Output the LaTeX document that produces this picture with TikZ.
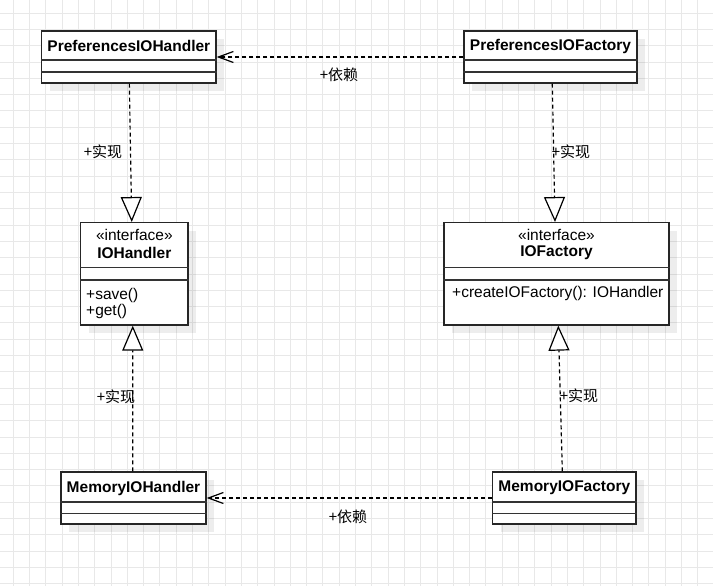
\documentclass[tikz,border=0pt]{standalone}
\usepackage{fontspec}
\setmainfont{Liberation Sans}
\newfontfamily\cjk{Noto Sans CJK SC}
\usetikzlibrary{arrows.meta,calc,shadows}
\def\umlrules(#1)(#2:#3){\draw[boxline] ($(#1.north west)+(0,#2)$) -- ($(#1.north east)+(0,#2)$); \draw[boxline] ($(#1.north west)+(0,#3)$) -- ($(#1.north east)+(0,#3)$);}

\tikzset{
	gridline/.style={line width=0.6pt, color=black!9},
	boxline/.style={line width=1.3pt, color=black!80},
	classbox/.style={draw=black!85, line width=1.3pt, fill=white, inner sep=0pt, drop shadow={shadow xshift=8pt, shadow yshift=-8pt, fill=black, fill opacity=0.07}},
	classname/.style={font=\fontsize{15.5}{18}\selectfont\bfseries, inner sep=0pt},
	member/.style={font=\fontsize{15.5}{18}\selectfont, inner sep=0pt},
	edgelabel/.style={font=\fontsize{15}{18}\selectfont\cjk, inner sep=0pt},
	depend/.style={line width=1.2pt, dash pattern=on 4pt off 3pt, -{Straight Barb[length=15pt,width=11pt]}},
	realize/.style={line width=1.2pt, dash pattern=on 4pt off 3pt, -{Triangle[length=25pt,width=21pt,fill=white]}}
}

\begin{document}
\begin{tikzpicture}[x=1pt,y=-1pt]
		%%%%% START %%%%%
		
		\useasboundingbox[fill=white] (0,0) rectangle (713,586);
		\foreach \i in {0,...,43} \draw[gridline] ({13+16.3*\i},0) -- ({13+16.3*\i},586);
		\foreach \i in {0,...,35} \draw[gridline] (0,{13+16.3*\i}) -- (713,{13+16.3*\i});
		
		% classes
		\node[classbox, minimum width=174.3, minimum height=52] (prefHandler) at (128.85,57) {};
		\node[classbox, minimum width=173, minimum height=52] (prefFactory) at (550.5,57) {};
		\node[classbox, minimum width=107.3, minimum height=102.3] (ioHandler) at (134.35,273.85) {};
		\node[classbox, minimum width=225, minimum height=102.3] (ioFactory) at (556.5,273.85) {};
		\node[classbox, minimum width=145, minimum height=52] (memHandler) at (133.5,498) {};
		\node[classbox, minimum width=143.3, minimum height=52] (memFactory) at (564.35,498) {};
		
		\umlrules(prefHandler)(29.7:41.7)
		\umlrules(prefFactory)(29.7:41.7)
		\umlrules(ioHandler)(45.6:58)
		\umlrules(ioFactory)(45.6:58)
		\umlrules(memHandler)(30.7:42)
		\umlrules(memFactory)(30.7:42)
		
		\node[classname] (prefHandlerName) at (128.85,46) {PreferencesIOHandler};
		\node[classname] (prefFactoryName) at (550.5,46) {PreferencesIOFactory};
		\node[member] (ioHandlerTag) at (134.35,235) {«interface»};
		\node[classname] (ioHandlerName) at (134.35,253) {IOHandler};
		\node[member, anchor=west] (saveOp) at (86,295) {+save()};
		\node[member, anchor=west] (getOp) at (86,311) {+get()};
		\node[member] (ioFactoryTag) at (556.5,235) {«interface»};
		\node[classname] (ioFactoryName) at (556.5,253) {IOFactory};
		\node[member, anchor=west] (createOp) at (452,293) {+createIOFactory(): IOHandler};
		\node[classname] (memHandlerName) at (133.5,488) {MemoryIOHandler};
		\node[classname] (memFactoryName) at (564.35,488) {MemoryIOFactory};
		
		% relations
		\draw[depend] (prefFactory.west) -- (prefHandler.east);
		\draw[depend] (memFactory.west) -- (memHandler.east);
		\draw[realize] ([xshift=0.5pt]prefHandler.south) -- ([xshift=-2.6pt]ioHandler.north);
		\draw[realize] ([xshift=1.8pt]prefFactory.south) -- ([xshift=-1.5pt]ioFactory.north);
		\draw[realize] ([xshift=-0.8pt]memHandler.north) -- ([xshift=-1.6pt]ioHandler.south);
		\draw[realize] ([xshift=-2pt]memFactory.north) -- ([xshift=1.8pt]ioFactory.south);
		
		\node[edgelabel] (topDepLabel) at (339,75) {+依赖};
		\node[edgelabel] (bottomDepLabel) at (348,517) {+依赖};
		\node[edgelabel] (leftTopLabel) at (103,152) {+实现};
		\node[edgelabel] (rightTopLabel) at (571,152) {+实现};
		\node[edgelabel] (leftBottomLabel) at (116,397) {+实现};
		\node[edgelabel] (rightBottomLabel) at (579,396) {+实现};
		
		%%%%% END %%%%%
	\end{tikzpicture}
\end{document}
